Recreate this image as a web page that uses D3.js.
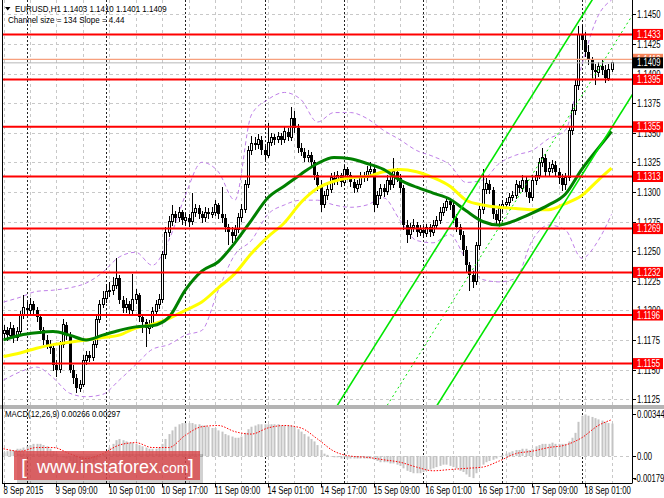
<!DOCTYPE html>
<html><head><meta charset="utf-8">
<script src="https://cdn.jsdelivr.net/npm/d3@7/dist/d3.min.js"></script>
<style>body{margin:0;background:#fff}svg{display:block}text{font-family:"Liberation Sans",Arial,sans-serif}</style>
</head><body><svg id="c" width="664" height="498"></svg>
<script>
// ---------------- DATA ----------------
const symbol = "EURUSD,H1";
const headerOHLC = ["1.1403","1.1410","1.1401","1.1409"];
const channelInfo = "Channel size = 134 Slope = 4.44";
// hourly candles [open, high, low, close], bar 0 = 8 Sep 17:00
const candles = [
[1.1180,1.1188,1.1176,1.1183],[1.1183,1.1186,1.1174,1.1179],[1.1179,1.1190,1.1176,1.1185],[1.1185,1.1188,1.1172,1.1177],[1.1177,1.1186,1.1174,1.1182],
[1.1182,1.1199,1.1179,1.1196],[1.1196,1.1213,1.1193,1.1202],[1.1202,1.1207,1.1196,1.1200],[1.1200,1.1210,1.1197,1.1205],[1.1205,1.1208,1.1196,1.1200],
[1.1200,1.1203,1.1190,1.1194],[1.1194,1.1197,1.1180,1.1183],[1.1183,1.1186,1.1171,1.1175],[1.1175,1.1179,1.1167,1.1171],[1.1171,1.1175,1.1163,1.1168],
[1.1168,1.1170,1.1149,1.1154],[1.1154,1.1158,1.1144,1.1150],[1.1150,1.1174,1.1147,1.1171],[1.1171,1.1193,1.1168,1.1188],[1.1188,1.1190,1.1175,1.1179],
[1.1179,1.1182,1.1147,1.1150],[1.1150,1.1154,1.1138,1.1143],[1.1143,1.1146,1.1130,1.1134],[1.1134,1.1141,1.1131,1.1137],[1.1137,1.1162,1.1135,1.1158],
[1.1158,1.1166,1.1154,1.1162],[1.1162,1.1166,1.1156,1.1160],[1.1160,1.1174,1.1157,1.1171],[1.1171,1.1195,1.1168,1.1192],[1.1192,1.1209,1.1189,1.1205],
[1.1205,1.1216,1.1202,1.1210],[1.1210,1.1222,1.1206,1.1216],[1.1216,1.1224,1.1211,1.1217],[1.1217,1.1228,1.1213,1.1221],[1.1221,1.1244,1.1218,1.1227],
[1.1227,1.1230,1.1205,1.1209],[1.1209,1.1212,1.1198,1.1202],[1.1202,1.1210,1.1198,1.1205],[1.1205,1.1208,1.1196,1.1200],[1.1200,1.1231,1.1197,1.1209],
[1.1209,1.1218,1.1205,1.1213],[1.1213,1.1215,1.1190,1.1194],[1.1194,1.1197,1.1181,1.1190],[1.1190,1.1193,1.1169,1.1185],[1.1185,1.1192,1.1180,1.1188],
[1.1188,1.1203,1.1185,1.1199],[1.1199,1.1209,1.1196,1.1205],[1.1205,1.1214,1.1201,1.1209],[1.1209,1.1250,1.1206,1.1247],[1.1247,1.1270,1.1243,1.1266],
[1.1266,1.1280,1.1262,1.1275],[1.1275,1.1289,1.1271,1.1281],[1.1281,1.1284,1.1274,1.1278],[1.1278,1.1287,1.1275,1.1283],[1.1283,1.1285,1.1272,1.1276],
[1.1276,1.1282,1.1271,1.1278],[1.1278,1.1281,1.1270,1.1275],[1.1275,1.1299,1.1272,1.1283],[1.1283,1.1290,1.1279,1.1286],[1.1286,1.1289,1.1277,1.1281],
[1.1281,1.1284,1.1274,1.1278],[1.1278,1.1287,1.1275,1.1283],[1.1283,1.1286,1.1277,1.1281],[1.1281,1.1287,1.1278,1.1283],[1.1283,1.1293,1.1280,1.1289],
[1.1289,1.1291,1.1277,1.1281],[1.1281,1.1304,1.1274,1.1278],[1.1278,1.1281,1.1266,1.1270],[1.1270,1.1273,1.1255,1.1266],[1.1266,1.1270,1.1257,1.1263],
[1.1263,1.1272,1.1259,1.1268],[1.1268,1.1282,1.1265,1.1278],[1.1278,1.1290,1.1275,1.1285],[1.1285,1.1310,1.1282,1.1306],[1.1306,1.1339,1.1303,1.1335],
[1.1335,1.1347,1.1331,1.1341],[1.1341,1.1346,1.1335,1.1340],[1.1340,1.1349,1.1336,1.1344],[1.1344,1.1347,1.1331,1.1335],[1.1335,1.1339,1.1327,1.1331],
[1.1331,1.1358,1.1329,1.1342],[1.1342,1.1350,1.1339,1.1346],[1.1346,1.1349,1.1340,1.1344],[1.1344,1.1351,1.1341,1.1347],[1.1347,1.1350,1.1340,1.1344],
[1.1344,1.1355,1.1341,1.1351],[1.1351,1.1354,1.1343,1.1346],[1.1346,1.1372,1.1343,1.1362],[1.1362,1.1368,1.1350,1.1354],[1.1354,1.1357,1.1333,1.1337],
[1.1337,1.1341,1.1330,1.1334],[1.1334,1.1337,1.1325,1.1329],[1.1329,1.1335,1.1325,1.1331],[1.1331,1.1334,1.1321,1.1325],[1.1325,1.1327,1.1310,1.1314],
[1.1314,1.1317,1.1301,1.1306],[1.1306,1.1310,1.1283,1.1289],[1.1289,1.1301,1.1286,1.1297],[1.1297,1.1306,1.1293,1.1302],[1.1302,1.1316,1.1299,1.1312],
[1.1312,1.1317,1.1306,1.1310],[1.1310,1.1318,1.1306,1.1314],[1.1314,1.1316,1.1304,1.1308],[1.1308,1.1323,1.1305,1.1319],[1.1319,1.1321,1.1310,1.1314],
[1.1314,1.1317,1.1304,1.1308],[1.1308,1.1311,1.1299,1.1303],[1.1303,1.1310,1.1300,1.1306],[1.1306,1.1317,1.1303,1.1313],[1.1313,1.1317,1.1308,1.1312],
[1.1312,1.1322,1.1309,1.1317],[1.1317,1.1325,1.1314,1.1319],[1.1319,1.1323,1.1283,1.1289],[1.1289,1.1301,1.1286,1.1297],[1.1297,1.1307,1.1294,1.1303],
[1.1303,1.1307,1.1296,1.1300],[1.1300,1.1314,1.1297,1.1310],[1.1310,1.1313,1.1302,1.1306],[1.1306,1.1329,1.1303,1.1317],[1.1317,1.1320,1.1308,1.1312],
[1.1312,1.1315,1.1299,1.1303],[1.1303,1.1306,1.1268,1.1272],[1.1272,1.1276,1.1257,1.1264],[1.1264,1.1274,1.1260,1.1270],[1.1270,1.1277,1.1266,1.1272],
[1.1272,1.1275,1.1262,1.1266],[1.1266,1.1272,1.1263,1.1268],[1.1268,1.1271,1.1261,1.1265],[1.1265,1.1273,1.1262,1.1270],[1.1270,1.1273,1.1262,1.1266],
[1.1266,1.1276,1.1263,1.1272],[1.1272,1.1280,1.1269,1.1276],[1.1276,1.1287,1.1273,1.1283],[1.1283,1.1291,1.1280,1.1287],[1.1287,1.1296,1.1284,1.1292],
[1.1292,1.1295,1.1285,1.1289],[1.1289,1.1292,1.1274,1.1278],[1.1278,1.1281,1.1266,1.1270],[1.1270,1.1273,1.1259,1.1264],[1.1264,1.1267,1.1246,1.1251],
[1.1251,1.1254,1.1232,1.1238],[1.1238,1.1241,1.1216,1.1230],[1.1230,1.1233,1.1219,1.1224],[1.1224,1.1258,1.1221,1.1255],[1.1255,1.1289,1.1251,1.1285],
[1.1285,1.1319,1.1281,1.1302],[1.1302,1.1312,1.1298,1.1307],[1.1307,1.1310,1.1298,1.1302],[1.1302,1.1304,1.1277,1.1281],[1.1281,1.1285,1.1272,1.1276],
[1.1276,1.1290,1.1273,1.1286],[1.1286,1.1293,1.1283,1.1289],[1.1289,1.1295,1.1286,1.1291],[1.1291,1.1299,1.1288,1.1295],[1.1295,1.1301,1.1292,1.1297],
[1.1297,1.1310,1.1294,1.1306],[1.1306,1.1309,1.1299,1.1303],[1.1303,1.1314,1.1300,1.1310],[1.1310,1.1313,1.1296,1.1300],[1.1300,1.1303,1.1291,1.1295],
[1.1295,1.1314,1.1292,1.1310],[1.1310,1.1318,1.1306,1.1314],[1.1314,1.1329,1.1311,1.1325],[1.1325,1.1337,1.1321,1.1329],[1.1329,1.1332,1.1313,1.1317],
[1.1317,1.1325,1.1313,1.1320],[1.1320,1.1327,1.1316,1.1323],[1.1323,1.1326,1.1313,1.1317],[1.1317,1.1320,1.1307,1.1312],[1.1312,1.1315,1.1301,1.1306],
[1.1306,1.1316,1.1302,1.1312],[1.1312,1.1356,1.1309,1.1352],[1.1352,1.1374,1.1348,1.1369],[1.1369,1.1395,1.1365,1.1390],[1.1390,1.1440,1.1386,1.1433],
[1.1433,1.1441,1.1420,1.1428],[1.1428,1.1435,1.1414,1.1418],[1.1418,1.1424,1.1407,1.1411],[1.1411,1.1414,1.1396,1.1403],[1.1403,1.1408,1.1390,1.1401],
[1.1401,1.1410,1.1397,1.1406],[1.1406,1.1411,1.1399,1.1403],[1.1403,1.1407,1.1392,1.1396],[1.1396,1.1408,1.1394,1.1403],[1.1403,1.1410,1.1401,1.1409]
];
// indicator samples (bar index -> value)
const maBars = [0,5,10,15,20,25,30,35,40,45,50,55,60,65,70,75,80,85,90,95,100,105,110,115,120,125,130,135,140,145,150,155,160,165,170,175,180,184];
const maGreen = [1.1175,1.1179,1.1181,1.1182,1.1179,1.1175,1.1179,1.1183,1.1186,1.1187,1.1194,1.1217,1.1233,1.1241,1.1257,1.1276,1.1295,1.1305,1.1315,1.1324,1.1329,1.1328,1.1324,1.1319,1.1310,1.1304,1.1299,1.1294,1.1284,1.1275,1.1272,1.1276,1.1282,1.1289,1.1298,1.1319,1.1337,1.1351];
const maYellow = [1.1161,1.1164,1.1168,1.1171,1.1173,1.1175,1.1177,1.1179,1.1185,1.1188,1.1193,1.1200,1.1207,1.1219,1.1231,1.1248,1.1262,1.1274,1.1291,1.1303,1.1309,1.1312,1.1313,1.1317,1.1319,1.1317,1.1312,1.1305,1.1293,1.1289,1.1287,1.1286,1.1285,1.1285,1.1290,1.1297,1.1310,1.1320];
const bandUpper = [1.1207,1.1211,1.1216,1.1217,1.1219,1.1223,1.1232,1.1245,1.1249,1.1238,1.1259,1.1297,1.1325,1.1317,1.1293,1.1365,1.1378,1.1384,1.1378,1.1359,1.1367,1.1367,1.1362,1.1352,1.1344,1.1335,1.1330,1.1323,1.1308,1.1310,1.1324,1.1331,1.1335,1.1345,1.1352,1.1407,1.1449,1.1462];
const bandLower = [1.1141,1.1148,1.1152,1.1143,1.1130,1.1127,1.1129,1.1141,1.1154,1.1167,1.1171,1.1179,1.1183,1.1217,1.1247,1.1259,1.1281,1.1289,1.1293,1.1293,1.1289,1.1287,1.1289,1.1295,1.1276,1.1259,1.1257,1.1264,1.1243,1.1226,1.1224,1.1227,1.1259,1.1272,1.1268,1.1244,1.1259,1.1281];
// regression channel: middle line at two bars, half width
const channelBars = [100, 190.5];
const channelMid = [1.10482, 1.14500];
const channelHalf = 0.0067;
// support / resistance levels
const levels = [1.1433,1.1395,1.1355,1.1313,1.1269,1.1232,1.1196,1.1155];
const priceTicks = [1.1450,1.1425,1.1400,1.1375,1.1350,1.1325,1.1300,1.1275,1.1250,1.1225,1.1200,1.1175,1.1150,1.1125];
const bidPrice = 1.1409, askPrice = 1.1412;
// time axis
const timeBars = [0,16,32,48,64,80,96,112,128,144,160,176];
const timeLabels = ["8 Sep 2015","9 Sep 09:00","10 Sep 01:00","10 Sep 17:00","11 Sep 09:00","14 Sep 01:00","14 Sep 17:00","15 Sep 09:00","16 Sep 01:00","16 Sep 17:00","17 Sep 09:00","18 Sep 01:00"];
const daySepBars = [7,31,55,79,103,127,151,175];
// MACD(12,26,9)
const macdHist = [0.0003,0.0004,0.0005,0.0005,0.0006,0.0006,0.0007,0.0008,0.0009,0.0010,
0.0010,0.0010,0.0009,0.0008,0.0006,0.0004,0.0002,0.0000,-0.0001,-0.0002,
-0.0004,-0.0006,-0.0007,-0.0008,-0.0007,-0.0007,-0.0006,-0.0005,-0.0003,-0.0001,
0.0002,0.0004,0.0007,0.0010,0.0013,0.0014,0.0013,0.0012,0.0011,0.0011,
0.0010,0.0009,0.0008,0.0007,0.0006,0.0006,0.0006,0.0007,0.0010,0.0014,
0.0018,0.0021,0.0024,0.0026,0.0027,0.0027,0.0027,0.0027,0.0026,0.0026,
0.0025,0.0025,0.0024,0.0023,0.0023,0.0021,0.0020,0.0018,0.0017,0.0016,
0.0015,0.0015,0.0016,0.0019,0.0022,0.0024,0.0025,0.0026,0.0026,0.0026,
0.0026,0.0026,0.0026,0.0026,0.0025,0.0025,0.0025,0.0025,0.0024,0.0022,
0.0020,0.0018,0.0016,0.0014,0.0012,0.0009,0.0005,0.0002,0.0001,0.0000,
-0.0001,-0.0001,-0.0002,-0.0001,-0.0002,-0.0002,-0.0002,-0.0002,-0.0002,-0.0002,
-0.0002,-0.0002,-0.0003,-0.0004,-0.0005,-0.0005,-0.0005,-0.0006,-0.0006,-0.0007,
-0.0008,-0.0010,-0.0012,-0.0013,-0.0014,-0.0014,-0.0014,-0.0013,-0.0012,-0.0011,
-0.0010,-0.0009,-0.0008,-0.0007,-0.0007,-0.0008,-0.0009,-0.0010,-0.0012,-0.0013,
-0.0015,-0.0017,-0.0018,-0.0014,-0.0010,-0.0007,-0.0005,-0.0004,-0.0003,-0.0002,
0.0000,0.0001,0.0002,0.0003,0.0004,0.0005,0.0005,0.0006,0.0006,0.0005,
0.0006,0.0008,0.0009,0.0010,0.0010,0.0010,0.0011,0.0010,0.0010,0.0010,
0.0010,0.0012,0.0015,0.0019,0.0028,0.0033,0.0034,0.0033,0.0032,0.0031,
0.0030,0.0029,0.0028,0.0027,0.00266];
const macdSignal = [0.0006,0.0004,0.0007,0.0007,0.0002,-0.0002,0.0002,0.0009,0.0011,0.0007,0.0007,0.0017,0.0024,0.0025,0.0020,0.0018,0.0023,0.0025,0.0023,0.0014,0.0004,0.0000,-0.0001,-0.0003,-0.0005,-0.0009,-0.0012,-0.0011,-0.0010,-0.0009,-0.0004,0.0002,0.0004,0.0007,0.0009,0.0015,0.0025,0.00297];
const macdLabel = "MACD(12,26,9) 0.00266 0.00297";
const macdMax = 0.00344, macdMin = -0.00179;
const macdAxisLabels = ["0.00344","0.00","-0.00179"];

// ---------------- DRAWING ----------------
const svg = d3.select('#c');
const plotL = 2, plotR = 632, mainT = 0, mainB = 405, macdT = 409, macdB = 483;
const x = d3.scaleLinear().domain([0,190]).range([3.57, 3.57 + 3.304*190]);
const y = d3.scaleLinear().domain([1.1125,1.1450]).range([399.1,14.3]);
const ym = d3.scaleLinear().domain([macdMin, macdMax]).range([478, 414]);
function T(sel, tx, ty, s, size, fill, sx){
  return sel.append('text').attr('transform',`translate(${tx},${ty}) scale(${sx||0.77},1)`)
    .attr('font-size',size).attr('fill',fill).text(s);
}
svg.append('rect').attr('width',664).attr('height',498).attr('fill','#fff');
const defs = svg.append('defs');
defs.append('clipPath').attr('id','cm').append('rect').attr('x',plotL).attr('y',mainT).attr('width',plotR-plotL).attr('height',mainB-mainT);
defs.append('clipPath').attr('id','cd').append('rect').attr('x',plotL).attr('y',macdT).attr('width',plotR-plotL).attr('height',macdB-macdT);

// grid
const grid = svg.append('g');
priceTicks.forEach(p=>{
  grid.append('line').attr('x1',plotL).attr('x2',plotR).attr('y1',Math.round(y(p))+0.5).attr('y2',Math.round(y(p))+0.5)
   .attr('stroke','#c8c8c8').attr('stroke-dasharray','3,3');
});
const gridBars = d3.range(0,191,8);
gridBars.forEach(b=>{
  [[mainT,mainB],[macdT,macdB]].forEach(([a,bb])=>{
    grid.append('line').attr('x1',Math.round(x(b))+0.5).attr('x2',Math.round(x(b))+0.5).attr('y1',a).attr('y2',bb)
     .attr('stroke','#c8c8c8').attr('stroke-dasharray','3,3');
  });
});
grid.append('line').attr('x1',plotL).attr('x2',plotR).attr('y1',Math.round(ym(0))+0.5).attr('y2',Math.round(ym(0))+0.5)
  .attr('stroke','#c8c8c8').attr('stroke-dasharray','3,3');
daySepBars.forEach(b=>{
  [[mainT,mainB],[macdT,macdB]].forEach(([a,bb])=>{
    grid.append('line').attr('x1',Math.round(x(b))+0.5).attr('x2',Math.round(x(b))+0.5).attr('y1',a).attr('y2',bb)
     .attr('stroke','#222').attr('stroke-dasharray','2,2');
  });
});

// main plot content
const gm = svg.append('g').attr('clip-path','url(#cm)');
const pts = arr => maBars.map((b,i)=>[x(b), y(arr[i])]);
const lineGen = d3.line().curve(d3.curveMonotoneX);
[bandUpper, bandLower].forEach(arr=>{
  gm.append('path').attr('d', lineGen(pts(arr))).attr('fill','none').attr('stroke','#bf7fe8').attr('stroke-width',1).attr('stroke-dasharray','4,3');
});
// candles
const cg = gm.append('g').attr('shape-rendering','crispEdges');
candles.forEach((c,i)=>{
  const [o,h,l,cl] = c;
  const cx = Math.round(x(i));
  cg.append('line').attr('x1',cx+0.5).attr('x2',cx+0.5).attr('y1',y(h)).attr('y2',y(l)).attr('stroke','#000').attr('stroke-width',1);
  const top = y(Math.max(o,cl)), bot = y(Math.min(o,cl));
  if (cl >= o) {
    cg.append('rect').attr('x',cx-0.5).attr('y',top).attr('width',2).attr('height',Math.max(1,bot-top))
      .attr('fill','#fff').attr('stroke','#000').attr('stroke-width',1);
  } else {
    cg.append('rect').attr('x',cx-1).attr('y',top).attr('width',3).attr('height',Math.max(1,bot-top)).attr('fill','#000');
  }
});
// moving averages
gm.append('path').attr('d', lineGen(pts(maYellow))).attr('fill','none').attr('stroke','#ffff00').attr('stroke-width',3);
gm.append('path').attr('d', lineGen(pts(maGreen))).attr('fill','none').attr('stroke','#008000').attr('stroke-width',3);
// regression channel
[-channelHalf, 0, channelHalf].forEach(off=>{
  gm.append('line').attr('x1',x(channelBars[0])).attr('x2',x(channelBars[1]))
    .attr('y1',y(channelMid[0]+off)).attr('y2',y(channelMid[1]+off))
    .attr('stroke','#00e600').attr('stroke-width', off===0?1:1.6)
    .attr('stroke-dasharray', off===0?'2,3':null);
});
// levels
levels.forEach(p=>{
  gm.append('line').attr('x1',plotL).attr('x2',plotR).attr('y1',y(p)).attr('y2',y(p)).attr('stroke','#ff0000').attr('stroke-width',2);
});
gm.append('line').attr('x1',plotL).attr('x2',plotR).attr('y1',y(askPrice)).attr('y2',y(askPrice)).attr('stroke','#f7a07e').attr('stroke-width',1.2);
gm.append('line').attr('x1',plotL).attr('x2',plotR).attr('y1',y(bidPrice)).attr('y2',y(bidPrice)).attr('stroke','#b8b8b8').attr('stroke-width',1);

// MACD
const gd = svg.append('g').attr('clip-path','url(#cd)');
macdHist.forEach((v,i)=>{
  const cx = Math.round(x(i));
  const a = ym(Math.max(0,v)), b = ym(Math.min(0,v));
  gd.append('rect').attr('x',cx-0.5).attr('y',a).attr('width',2).attr('height',Math.max(0.5,b-a)).attr('fill','#c4c4c4');
});
gd.append('path').attr('d', lineGen(maBars.map((b,i)=>[x(b), ym(macdSignal[i])])))
  .attr('fill','none').attr('stroke','#ff0000').attr('stroke-width',1).attr('stroke-dasharray','1.5,1.5');

// frames
svg.append('rect').attr('x',0).attr('y',mainB).attr('width',664).attr('height',macdT-mainB).attr('fill','#b4b4b4');
svg.append('line').attr('x1',plotL+0.5).attr('x2',plotL+0.5).attr('y1',0).attr('y2',macdB).attr('stroke','#000');
svg.append('line').attr('x1',plotR+0.5).attr('x2',plotR+0.5).attr('y1',0).attr('y2',macdB+0.5).attr('stroke','#000');
svg.append('line').attr('x1',plotL).attr('x2',plotR).attr('y1',macdB+0.5).attr('y2',macdB+0.5).attr('stroke','#000');

// right price axis
const ax = svg.append('g');
priceTicks.forEach(p=>{
  const yy = Math.round(y(p))+0.5;
  ax.append('line').attr('x1',plotR).attr('x2',plotR+4).attr('y1',yy).attr('y2',yy).attr('stroke','#000');
  T(ax, 637, yy+3.5, p.toFixed(4), 10, '#000');
});
levels.forEach(p=>{
  const yy = y(p);
  ax.append('rect').attr('x',plotR+1).attr('y',yy-5.5).attr('width',30).attr('height',11).attr('fill','#ff0000');
  T(ax, 637, yy+3.6, p.toFixed(4), 10, '#fff');
});
ax.append('rect').attr('x',plotR+1).attr('y',y(askPrice)-5.5).attr('width',30).attr('height',11).attr('fill','#f7845a');
T(ax, 637, y(askPrice)+3.6, askPrice.toFixed(4), 10, '#fff');
ax.append('rect').attr('x',plotR+1).attr('y',y(bidPrice)-5.5).attr('width',30).attr('height',11).attr('fill','#000');
T(ax, 637, y(bidPrice)+3.6, bidPrice.toFixed(4), 10, '#fff');

// MACD axis
[macdMax, 0, macdMin].forEach((v,i)=>{
  const yy = Math.round(ym(v))+0.5;
  ax.append('line').attr('x1',plotR).attr('x2',plotR+4).attr('y1',yy).attr('y2',yy).attr('stroke','#000');
  T(ax, i===2?634:637, yy+3.5, macdAxisLabels[i], 10, '#000');
});

// time axis
timeBars.forEach((b,i)=>{
  const xx = Math.round(x(b))+0.5;
  ax.append('line').attr('x1',xx).attr('x2',xx).attr('y1',macdB).attr('y2',macdB+4).attr('stroke','#000');
  T(ax, xx-1, 494, timeLabels[i], 10, '#000', 0.78);
});

// header texts
svg.append('path').attr('d','M5,7 L10.5,7 L7.75,10.5 Z').attr('fill','#000');
T(svg, 15, 11.6, symbol + "  " + headerOHLC.join(" "), 9.8, '#000', 0.81);
T(svg, 8, 22.6, channelInfo, 9.8, '#000', 0.82);
T(svg, 5, 417, macdLabel, 9.8, '#000', 0.8);

// watermark
const wm = svg.append('g');
wm.append('rect').attr('x',17).attr('y',454).attr('width',186).attr('height',29).attr('fill','#000').attr('opacity',0.18);
wm.append('rect').attr('x',14).attr('y',451).attr('width',186).attr('height',29).attr('fill','#d9474b').attr('opacity',0.82);
wm.append('text').attr('x',21).attr('y',474).attr('font-size',21).attr('fill','#fff').text('[');
const wt = wm.append('text').attr('x',37).attr('y',473).attr('font-size',18).attr('fill','#fff');
wt.append('tspan').text('www.instaforex');
wt.append('tspan').attr('font-size',14).text('.com');
wm.append('text').attr('x',188).attr('y',474).attr('font-size',21).attr('fill','#fff').text(']');
</script></body></html>
